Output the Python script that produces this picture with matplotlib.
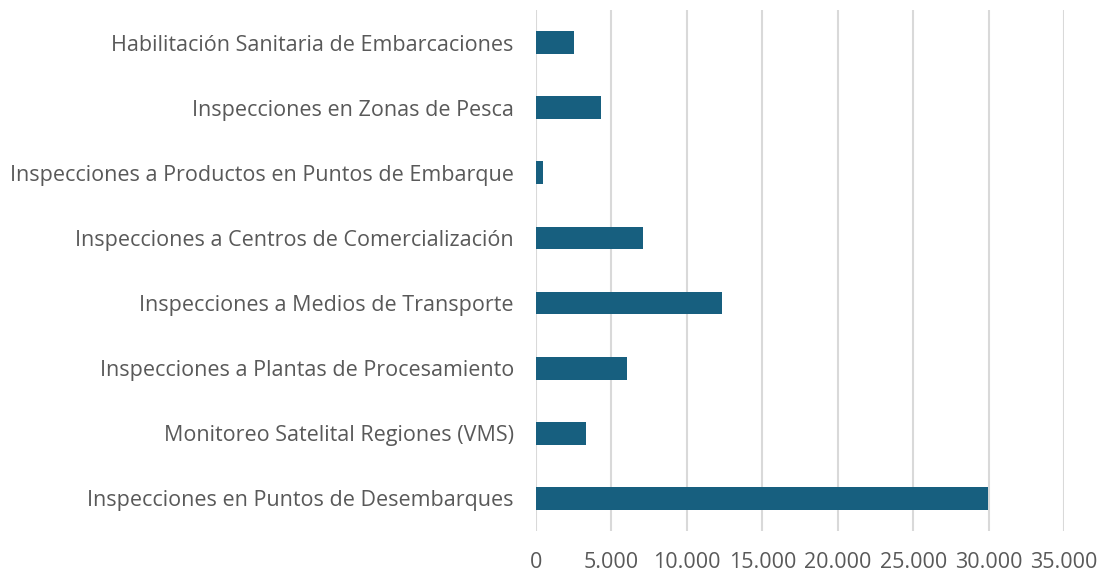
import matplotlib
matplotlib.use("Agg")
import matplotlib.pyplot as plt
from matplotlib.ticker import FuncFormatter

categories = [
    "Inspecciones en Puntos de Desembarques",
    "Monitoreo Satelital Regiones (VMS)",
    "Inspecciones a Plantas de Procesamiento",
    "Inspecciones a Medios de Transporte",
    "Inspecciones a Centros de Comercialización",
    "Inspecciones a Productos en Puntos de Embarque",
    "Inspecciones en Zonas de Pesca",
    "Habilitación Sanitaria de Embarcaciones",
]
values = [29950, 3320, 6040, 12340, 7100, 480, 4280, 2500]
x_ticks = [0, 5000, 10000, 15000, 20000, 25000, 30000, 35000]

plt.rcParams["font.family"] = ["Open Sans", "DejaVu Sans"]

fig = plt.figure(figsize=(10.99, 5.76), dpi=100)
ax = fig.add_axes([536 / 1099, 1 - 531 / 576, (1064 - 536) / 1099, 521 / 576])

ax.barh(range(len(categories)), values, height=0.35, color="#175f7f", zorder=3)

ax.set_xlim(0, 35000)
ax.set_ylim(-0.5, len(categories) - 0.5)
ax.set_xticks(x_ticks)
ax.xaxis.set_major_formatter(FuncFormatter(lambda v, p: f"{int(v):,}".replace(",", ".")))
ax.set_yticks(range(len(categories)))
ax.set_yticklabels(categories)

ax.grid(axis="x", color="#d9d9d9", linewidth=1.5, zorder=0)
for s in ax.spines.values():
    s.set_visible(False)
ax.tick_params(axis="both", length=0, labelsize=15.5, labelcolor="#595959")
ax.tick_params(axis="y", pad=16)
ax.tick_params(axis="x", pad=15)

fig.savefig("out.png", dpi=100)
